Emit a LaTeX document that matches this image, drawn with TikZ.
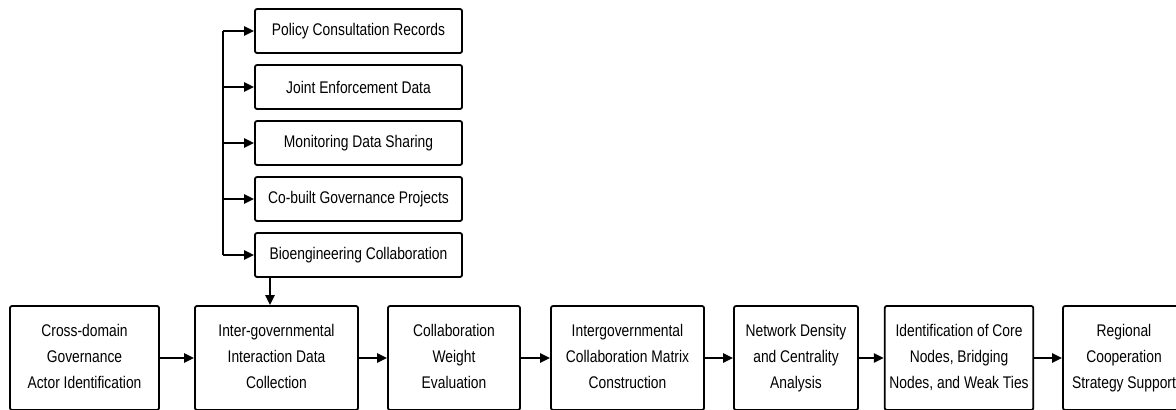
\documentclass[tikz,border=0pt]{standalone}
\usepackage{fontspec}
\setmainfont{Liberation Sans}[FakeStretch=0.82]
\usetikzlibrary{arrows.meta}

\begin{document}
\begin{tikzpicture}[x=0.025cm, y=-0.025cm,
	src/.style={draw, line width=1.3pt, rounded corners=1.5pt, minimum width=5.175cm, minimum height=1.1cm, font=\fontsize{12}{18.5}\selectfont},
	stage/.style={draw, line width=1.3pt, rounded corners=1.5pt, minimum height=2.6cm, align=center, font=\fontsize{12}{18.5}\selectfont,
		execute at begin node={\rule{0pt}{17.1pt}}, execute at end node={\rule[-2.5pt]{0pt}{2.5pt}}},
	arr/.style={line width=1.3pt, -{Triangle[length=7pt,width=6.5pt]}}]

	% page frame, the last box runs off the right edge
	\useasboundingbox (0,0) rectangle (1176,409);
	\clip (0,0) rectangle (1176,409);

	% data sources stacked on the left
	\node[src] (policy) at (358.5,31) {Policy Consultation Records};
	\node[src] (joint) at (358.5,87) {Joint Enforcement Data};
	\node[src] (monitor) at (358.5,143) {Monitoring Data Sharing};
	\node[src] (cobuilt) at (358.5,199) {Co-built Governance Projects};
	\node[src] (bioeng) at (358.5,255) {Bioengineering Collaboration};

	% main workflow along the bottom
	\node[stage, minimum width=3.725cm] (actor) at (84.5,358) {Cross-domain\\Governance\\Actor Identification};
	\node[stage, minimum width=4.075cm] (collect) at (276.5,358) {Inter-governmental\\Interaction Data\\Collection};
	\node[stage, minimum width=3.3cm] (weight) at (454,358) {Collaboration\\Weight\\Evaluation};
	\node[stage, minimum width=3.825cm] (matrix) at (627.5,358) {Intergovernmental\\Collaboration Matrix\\Construction};
	\node[stage, minimum width=3.1cm] (density) at (796,358) {Network Density\\and Centrality\\Analysis};
	\node[stage, minimum width=3.7cm] (ties) at (959,358) {Identification of Core\\Nodes, Bridging\\Nodes, and Weak Ties};
	\node[stage, minimum width=3.05cm] (strategy) at (1124,358) {Regional\\Cooperation\\Strategy Support};

	% spine feeding the sources
	\coordinate (spine) at (223,31);
	\draw[line width=1.3pt] (spine |- policy) -- (spine |- bioeng);
	\foreach \n in {policy,joint,monitor,cobuilt,bioeng}
		\draw[arr] (spine |- \n) -- (\n.west);

	% sources drop into data collection
	\coordinate (drop) at (270,0);
	\draw[arr] (drop |- bioeng.south) -- (drop |- collect.north);

	\foreach \a/\b in {actor/collect,collect/weight,weight/matrix,matrix/density,density/ties,ties/strategy}
		\draw[arr] (\a) -- (\b);

\end{tikzpicture}
\end{document}
